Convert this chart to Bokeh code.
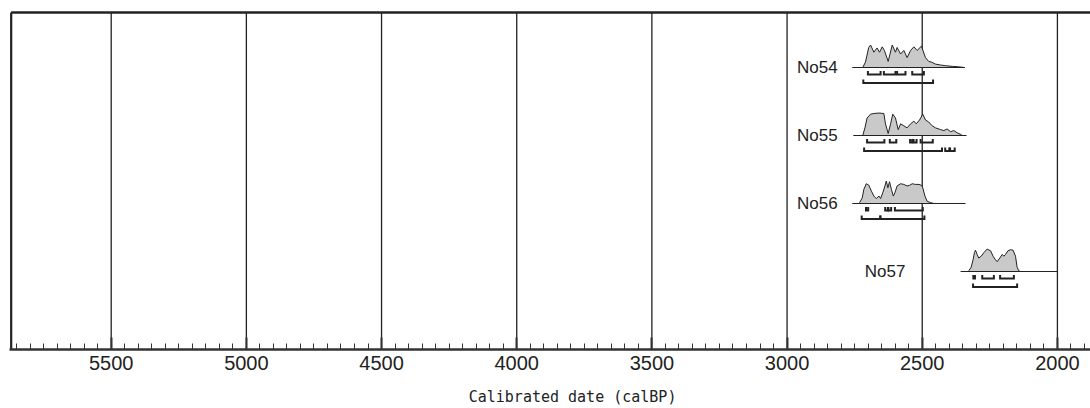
import numpy as np
from bokeh.plotting import figure
from bokeh.models import Range1d, SingleIntervalTicker
from bokeh.core.properties import value
from bokeh.embed import file_html
from bokeh.resources import INLINE

# ---------------- data ----------------
samples = ["No54", "No55", "No56", "No57"]

no54_years = [2720, 2710, 2698, 2691, 2679, 2667, 2658, 2648, 2640, 2626, 2611, 2599, 2593, 2580, 2568,
              2556, 2543, 2531, 2519, 2503, 2488, 2476, 2466, 2451, 2432, 2414, 2389, 2365, 2346]
no54_prob = [0, 24, 89, 100, 68, 87, 68, 92, 76, 27, 100, 68, 89, 60, 76,
             44, 76, 92, 76, 95, 44, 27, 24, 15, 11, 8, 5, 3, 0]

no55_years = [2720, 2712, 2704, 2691, 2679, 2660, 2642, 2636, 2626, 2617, 2609, 2599, 2589, 2580, 2568, 2556,
              2543, 2531, 2522, 2510, 2498, 2488, 2476, 2463, 2451, 2432, 2420, 2408, 2395, 2383, 2371, 2358, 2352]
no55_prob = [0, 34, 78, 95, 98, 100, 98, 52, 9, 52, 95, 78, 26, 52, 43, 34,
             52, 64, 52, 69, 95, 69, 60, 43, 34, 26, 22, 29, 17, 22, 12, 5, 0]

no56_years = [2732, 2722, 2716, 2707, 2698, 2688, 2679, 2670, 2660, 2654, 2646, 2638, 2633, 2627, 2621, 2614,
              2607, 2601, 2593, 2580, 2568, 2556, 2547, 2537, 2525, 2512, 2503, 2498, 2490, 2482, 2469, 2457]
no56_prob = [3, 25, 63, 88, 82, 55, 33, 22, 33, 22, 48, 78, 100, 70, 97, 63,
             33, 48, 78, 88, 85, 78, 81, 88, 85, 85, 81, 70, 33, 10, 4, 0]

no57_years = [2328, 2319, 2312, 2307, 2303, 2297, 2291, 2282, 2272, 2260, 2247, 2238, 2229, 2223, 2213,
              2204, 2198, 2192, 2183, 2173, 2164, 2155, 2149, 2143, 2136]
no57_prob = [3, 19, 52, 84, 95, 76, 60, 68, 84, 100, 92, 68, 52, 44, 60,
             76, 68, 76, 92, 97, 95, 68, 19, 3, 0]

# extent of each baseline (calBP)
baseline_extent = [(2759, 2342), (2755, 2336), (2759, 2340), (2358, 2001)]

# 68.2% ranges (upper row) and 95.4% ranges (lower row)
range68 = [
    [(2701, 2654), (2642, 2599), (2593, 2562), (2537, 2494)],
    [(2704, 2640), (2620, 2596), (2545, 2537), (2532, 2521), (2506, 2461)],
    [(2708, 2700), (2637, 2627), (2625, 2615), (2601, 2498)],
    [(2311, 2305), (2278, 2235), (2212, 2161)],
]
range95 = [
    [(2718, 2460)],
    [(2715, 2427), (2415, 2400), (2397, 2380)],
    [(2724, 2655), (2655, 2492)],
    [(2312, 2149)],
]

tick_years = [5500, 5000, 4500, 4000, 3500, 3000, 2500, 2000]
x_title = "Calibrated date (calBP)"

# ---------------- layout (not data) ----------------
rows = [4, 3, 2, 1]
label_x = [2813, 2813, 2813, 2562]
dens_h = 0.33
off68, off95, tick_h = 0.103, 0.228, 0.052
y_lo, y_hi = -0.147, 4.985
top_y = 4.809
left_year = 5870

dark = "#222222"
fill = "#c9c9c9"

p = figure(width=1090, height=408, output_backend="svg", toolbar_location=None,
           x_range=Range1d(5876.2, 1877.6), y_range=Range1d(y_lo, y_hi),
           min_border_left=9, min_border_right=0, min_border_top=0, min_border_bottom=59)
p.outline_line_color = None
p.background_fill_color = "white"
p.border_fill_color = "white"
p.yaxis.visible = False
p.ygrid.visible = False
p.xgrid.visible = False

ax = p.xaxis[0]
ax.ticker = SingleIntervalTicker(interval=500, num_minor_ticks=10)
ax.axis_line_width = 2.5
ax.axis_line_color = "#333333"
ax.major_tick_in = 12
ax.major_tick_out = 0
ax.major_tick_line_width = 2
ax.major_tick_line_color = "#333333"
ax.minor_tick_in = 6
ax.minor_tick_out = 0
ax.minor_tick_line_width = 1
ax.minor_tick_line_color = "#333333"
ax.major_label_text_font = "Liberation Sans"
ax.major_label_text_font_size = "20px"
ax.major_label_text_color = dark
ax.major_label_standoff = 6
# axis title, nudged right of the (cropped) frame centre with no-break spaces
ax.axis_label = "\u00a0" * 5 + x_title
ax.axis_label_text_font = "DejaVu Sans Mono"
ax.axis_label_text_font_size = "15px"
ax.axis_label_text_font_style = "normal"
ax.axis_label_text_color = dark
ax.axis_label_standoff = 15

# gridlines and frame border
p.segment(x0=tick_years, y0=[y_lo] * len(tick_years), x1=tick_years, y1=[top_y] * len(tick_years),
          line_color=dark, line_width=1.3)
p.segment(x0=[left_year], y0=[y_lo], x1=[left_year], y1=[top_y], line_color=dark, line_width=2.2)
p.segment(x0=[left_year], y0=[top_y], x1=[1800], y1=[top_y], line_color=dark, line_width=2.5)

all_years = [no54_years, no55_years, no56_years, no57_years]
all_prob = [no54_prob, no55_prob, no56_prob, no57_prob]

for i, name in enumerate(samples):
    base = rows[i]
    yrs = np.array(all_years[i], dtype=float)
    pr = np.array(all_prob[i], dtype=float)
    top = base + pr / pr.max() * dens_h
    p.varea(x=yrs, y1=np.full(len(yrs), base), y2=top, fill_color=fill)
    p.line(x=yrs, y=top, line_color=dark, line_width=1)
    a, b = baseline_extent[i]
    p.line(x=[a, b], y=[base, base], line_color=dark, line_width=1.2)
    xs, ys = [], []
    for (s, e) in range68[i]:
        yl = base - off68
        xs.append([s, s, e, e]); ys.append([yl + tick_h, yl, yl, yl + tick_h])
    for (s, e) in range95[i]:
        yl = base - off95
        xs.append([s, s, e, e]); ys.append([yl + tick_h, yl, yl, yl + tick_h])
    p.multi_line(xs=xs, ys=ys, line_color=dark, line_width=2, line_join="miter", line_cap="butt")

p.text(x=label_x, y=rows, text=samples, text_align="right", text_baseline="middle",
       text_font=value("Liberation Sans"), text_font_size="17px", text_color=dark)

open("out.html", "w").write(file_html(p, INLINE))
